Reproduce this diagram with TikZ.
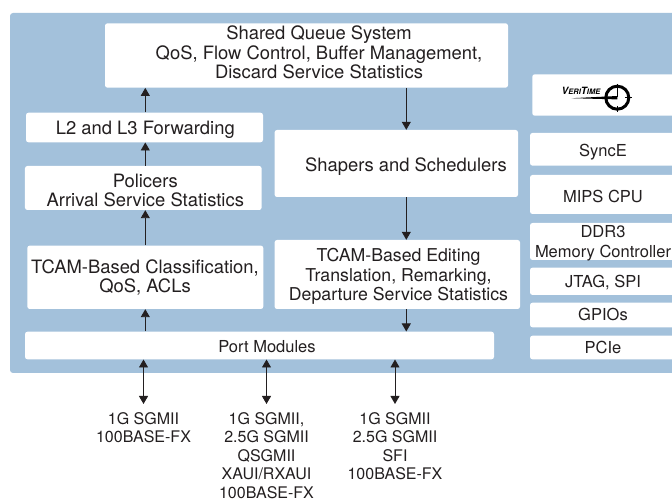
\documentclass[tikz,border=0pt]{standalone}
\usepackage{fontspec}
\setmainfont{TeX Gyre Heros}
\usetikzlibrary{arrows.meta}
\definecolor{panelblue}{HTML}{A3C1DB}
\definecolor{inkgray}{HTML}{231F20}
\tikzset{
    box/.style={fill=white, rounded corners=2.5pt, align=center, inner sep=0pt, text=inkgray,
        font=\fontsize{18.4}{19.4}\selectfont},
    boxtext/.style={box, fill=none},
    boxsmall/.style={box, fill=none, font=\fontsize{16.5}{20}\selectfont},
    portlabel/.style={align=center, anchor=north, inner sep=0pt, text=inkgray,
        font=\fontsize{16}{18.6}\selectfont},
    flow/.style={draw=inkgray, line width=.9pt, -{Triangle[length=8pt,width=9pt]}},
    dualflow/.style={flow, {Triangle[length=8pt,width=9pt]}-{Triangle[length=8pt,width=9pt]}}
}
\begin{document}
\begin{tikzpicture}[x=1pt, y=-1pt]
    \useasboundingbox (0,0) rectangle (672,502);
    \clip (0,0) rectangle (672,502);
    \fill[panelblue, rounded corners=3pt] (10,13) rectangle (690,373);

    \coordinate (leftbus) at (145.3,0);
    \coordinate (rightbus) at (406.3,0);

    \node[box, minimum width=403pt, minimum height=64.4pt] (queue) at (306.5,55.5) {};
    \node[boxtext] (queuetext) at (319,52.5)
        {Shared Queue System\\QoS, Flow Control, Buffer Management,\\Discard Service Statistics};
    \node[box, minimum width=237pt, minimum height=29.6pt] (forward) at (144.5,127.5) {};
    \node[boxtext] (forwardtext) at (145.3,129.5) {L2 and L3 Forwarding};
    \node[box, minimum width=236.7pt, minimum height=44pt] (police) at (143.3,188) {};
    \node[boxtext] (policetext) at (145.3,190.3) {Policers\\Arrival Service Statistics};
    \node[box, minimum width=236pt, minimum height=63.4pt] (classify) at (145.3,277.3) {};
    \node[boxtext] (classifytext) at (145,277.5) {TCAM-Based Classification,\\QoS, ACLs};
    \node[box, minimum width=469pt, minimum height=27.6pt] (port) at (259.5,345.5) {};
    \node[boxsmall] (porttext) at (267,346.5) {Port Modules};
    \node[box, minimum width=243.5pt, minimum height=67pt] (shaper) at (396.3,163.5) {};
    \node[boxtext] (shapertext) at (406,167) {Shapers and Schedulers};
    \node[box, minimum width=245.5pt, minimum height=69pt] (edit) at (397.3,274.5) {};
    \node[boxtext, font=\fontsize{17.7}{19.5}\selectfont] (edittext) at (398.5,276.7)
        {TCAM-Based Editing\\Translation, Remarking,\\Departure Service Statistics};

    \node[box, minimum width=160pt, minimum height=41.4pt] (veritime) at (612.3,95) {};
    \node[box, minimum width=160pt, minimum height=32.7pt] (synce) at (610,149.3) {};
    \node[boxsmall] (syncetext) at (603,152) {SyncE};
    \node[box, minimum width=160pt, minimum height=39pt] (mips) at (610,194.5) {};
    \node[boxsmall] (mipstext) at (603,196) {MIPS CPU};
    \node[box, minimum width=160pt, minimum height=37pt] (ddr) at (610,241.5) {};
    \node[boxsmall] (ddrtext) at (603,243.5) {DDR3\\Memory Controller};
    \node[box, minimum width=160pt, minimum height=27.3pt] (jtag) at (610,281.3) {};
    \node[boxsmall] (jtagtext) at (603,283) {JTAG, SPI};
    \node[box, minimum width=160pt, minimum height=24.6pt] (gpio) at (610,315) {};
    \node[boxsmall] (gpiotext) at (603,314) {GPIOs};
    \node[box, minimum width=160pt, minimum height=23.6pt] (pcie) at (610,347.5) {};
    \node[boxsmall] (pcietext) at (603,347.5) {PCIe};

    \node[inner sep=0pt, text=black, font=\bfseries\itshape] (veritext) at (581,91)
        {{\fontsize{10}{10}\selectfont V}{\fontsize{7.5}{9}\selectfont ERI}{\fontsize{10}{10}\selectfont T}{\fontsize{7.5}{9}\selectfont IME}};
    \coordinate (dial) at (617.3,97.7);
    \fill[black] (dial) ++(0,-1.7) -- ++(0,3.4) -- (571.5,98.2) -- cycle;
    \draw[black, line width=3pt] (dial) circle (11.5pt);
    \draw[black, line width=1.2pt] (617.3,84) -- (617.3,97) (617.3,106) -- (617.3,112) (625,97.7) -- (632,97.7);

    \node[portlabel] (ifleft) at (143.5,412) {1G SGMII\\100BASE-FX};
    \node[portlabel] (ifmid) at (266.5,412) {1G SGMII,\\2.5G SGMII\\QSGMII\\XAUI/RXAUI\\100BASE-FX};
    \node[portlabel] (ifright) at (395,412) {1G SGMII\\2.5G SGMII\\SFI\\100BASE-FX};

    \draw[flow] (port.north -| leftbus) -- (classify.south -| leftbus);
    \draw[flow] (classify.north -| leftbus) -- (police.south -| leftbus);
    \draw[flow] (police.north -| leftbus) -- (forward.south -| leftbus);
    \draw[flow] (forward.north -| leftbus) -- (queue.south -| leftbus);
    \draw[flow] (queue.south -| rightbus) -- (shaper.north -| rightbus);
    \draw[flow] (shaper.south -| rightbus) -- (edit.north -| rightbus);
    \draw[flow] (edit.south -| rightbus) -- (port.north -| rightbus);
    \draw[dualflow] (port.south -| ifleft) -- ([yshift=8pt]ifleft.north);
    \draw[dualflow] (port.south -| ifmid) -- ([yshift=8pt]ifmid.north);
    \draw[dualflow] (port.south -| ifright) -- ([yshift=8pt]ifright.north);
\end{tikzpicture}
\end{document}
